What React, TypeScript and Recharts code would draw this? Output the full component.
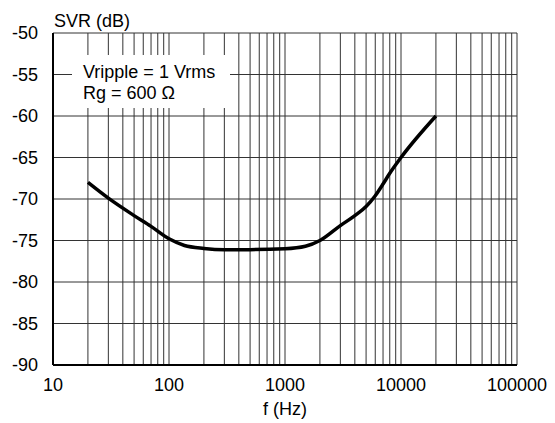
import { LineChart, Line, XAxis, YAxis, CartesianGrid } from "recharts";

// frequency (Hz) and SVR (dB)
const freqs = [20, 30, 50, 70, 100, 136, 200, 300, 500, 1000, 1500, 2000, 3000, 4000, 5000, 6000, 7000, 8000, 10000, 20000];
const svr = [-68, -69.9, -72, -73.3, -74.8, -75.6, -75.95, -76.1, -76.1, -76, -75.7, -75, -73.2, -72, -70.9, -69.6, -68.2, -66.9, -65, -60];

const decades = [10, 100, 1000, 10000, 100000];
const xTicks = [
  10, 20, 30, 40, 50, 60, 70, 80, 90,
  100, 200, 300, 400, 500, 600, 700, 800, 900,
  1000, 2000, 3000, 4000, 5000, 6000, 7000, 8000, 9000,
  10000, 20000, 30000, 40000, 50000, 60000, 70000, 80000, 90000,
  100000,
];
const yTicks = [-90, -85, -80, -75, -70, -65, -60, -55, -50];
const noteLines = ["Vripple = 1 Vrms", "Rg = 600 Ω"];

const rows = freqs.map((f, i) => ({ f, svr: svr[i] }));

const font = '"Liberation Sans", Arial, sans-serif';

export default function App() {
  return (
    <div style={{ position: "relative", width: 555, height: 423, background: "#fff", fontFamily: font }}>
      <style>{"body{margin:0}"}</style>
      <LineChart width={555} height={423} data={rows} margin={{ top: 33, right: 38, bottom: 0, left: 8 }}>
        <CartesianGrid stroke="#333" strokeWidth={1} />
        <XAxis
          dataKey="f"
          type="number"
          scale="log"
          domain={[10, 100000]}
          ticks={xTicks}
          interval={0}
          height={58}
          tickLine={false}
          tickMargin={7}
          axisLine={{ stroke: "#000", strokeWidth: 2 }}
          tickFormatter={(v: number) => (decades.includes(v) ? String(v) : "")}
          tick={{ fill: "#000", fontSize: 18, fontFamily: font }}
          allowDataOverflow
        />
        <YAxis
          type="number"
          domain={[-90, -50]}
          ticks={yTicks}
          interval={0}
          width={45}
          tickLine={false}
          tickMargin={9}
          axisLine={{ stroke: "#000", strokeWidth: 2 }}
          tick={{ fill: "#000", fontSize: 18, fontFamily: font }}
        />
        <Line
          type="monotone"
          dataKey="svr"
          stroke="#000"
          strokeWidth={3.5}
          dot={false}
          isAnimationActive={false}
        />
      </LineChart>
      <div style={{ position: "absolute", left: 54, top: 11, fontSize: 18, lineHeight: "20px", color: "#000" }}>
        SVR (dB)
      </div>
      <div
        style={{
          position: "absolute",
          left: 185,
          width: 200,
          top: 399,
          textAlign: "center",
          fontSize: 18,
          lineHeight: "20px",
          color: "#000",
        }}
      >
        f (Hz)
      </div>
      <div
        style={{
          position: "absolute",
          left: 72,
          top: 55,
          width: 158,
          height: 53,
          background: "#fff",
          boxSizing: "border-box",
          padding: "7px 0 0 11px",
          fontSize: 18,
          lineHeight: "21px",
          color: "#000",
          whiteSpace: "nowrap",
        }}
      >
        {noteLines.map((t) => (
          <div key={t}>{t}</div>
        ))}
      </div>
    </div>
  );
}
